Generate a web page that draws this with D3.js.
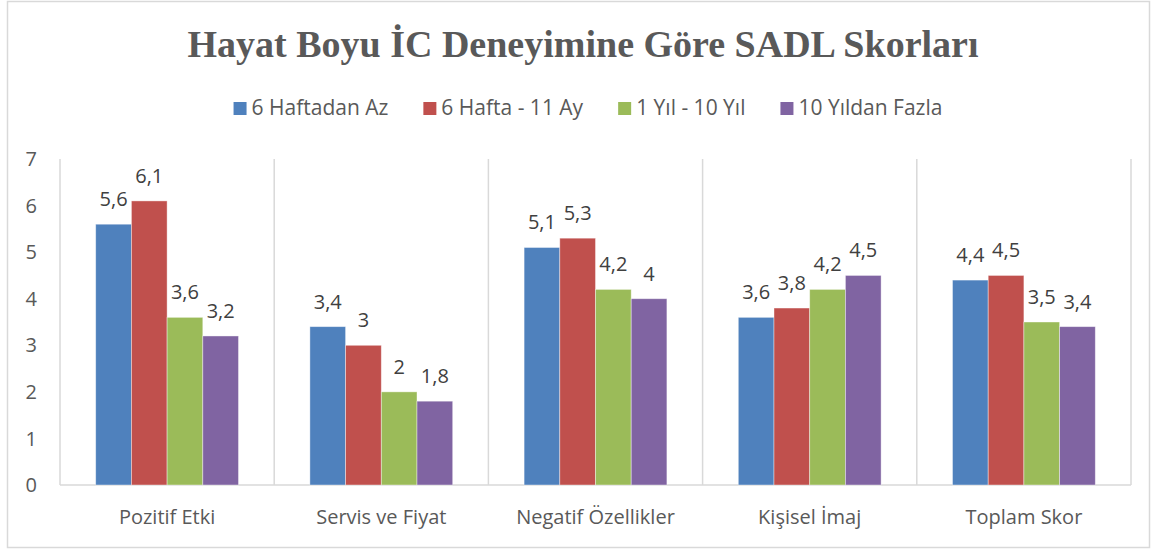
<!DOCTYPE html>
<html>
<head>
<meta charset="utf-8">
<script src="https://cdn.jsdelivr.net/npm/d3@7"></script>
<style>
  body { margin: 0; background: #fff; }
  text { font-family: "Open Sans", sans-serif; }
</style>
</head>
<body>
<script>
var categories = ['Pozitif Etki', 'Servis ve Fiyat', 'Negatif Özellikler', 'Kişisel İmaj', 'Toplam Skor'];
var seriesNames = ['6 Haftadan Az', '6 Hafta - 11 Ay', '1 Yıl - 10 Yıl', '10 Yıldan Fazla'];
var haftadanAz = [5.6, 3.4, 5.1, 3.6, 4.4];
var hafta11Ay = [6.1, 3.0, 5.3, 3.8, 4.5];
var yil1_10 = [3.6, 2.0, 4.2, 4.2, 3.5];
var yil10Fazla = [3.2, 1.8, 4.0, 4.5, 3.4];
var yTicks = [0, 1, 2, 3, 4, 5, 6, 7];

var colors = ['#4F81BD', '#C0504D', '#9BBB59', '#8064A2'];

var width = 1156;
var height = 550;

var margin = {
    top: 159,
    left: 60,
    right: 25,
    bottom: 65
};

var innerWidth = width - margin.left - margin.right;
var innerHeight = height - margin.top - margin.bottom;

var seriesValues = [haftadanAz, hafta11Ay, yil1_10, yil10Fazla];

var svg = d3.select('body').append('svg')
    .attr('width', width)
    .attr('height', height);

// chart border
svg.append('rect')
    .attr('x', 7.5).attr('y', 1.5)
    .attr('width', 1142).attr('height', 546)
    .attr('fill', 'none')
    .attr('stroke', '#d9d9d9')
    .attr('stroke-width', 1.5);

// title
svg.append('text')
    .attr('x', 583)
    .attr('y', 57)
    .attr('text-anchor', 'middle')
    .style('font-family', '"Liberation Serif", serif')
    .style('font-weight', 'bold')
    .style('font-size', '38px')
    .style('fill', '#595959')
    .text('Hayat Boyu İC Deneyimine Göre SADL Skorları');

// legend
var legend = svg.append('g');
var items = legend.selectAll('g')
    .data(seriesNames)
    .join('g');
items.append('rect')
    .attr('width', 13).attr('height', 13)
    .attr('y', -13)
    .attr('fill', function (d, i) { return colors[i]; });
items.append('text')
    .attr('x', 18)
    .attr('y', 0)
    .style('font-size', '21px')
    .style('fill', '#595959')
    .text(function (d) { return d; });
var gap = 35;
var pos = 0;
var offsets = [];
items.each(function () {
    offsets.push(pos);
    var w = 18 + d3.select(this).select('text').node().getComputedTextLength();
    pos += w + gap;
});
var total = pos - gap;
var lx = 588 - total / 2;
items.attr('transform', function (d, i) {
    return 'translate(' + (lx + offsets[i]) + ',0)';
});
legend.attr('transform', 'translate(0,115)');

var g = svg.append('g')
    .attr('transform', 'translate(' + margin.left + ',' + margin.top + ')');

var x0 = d3.scaleBand()
    .domain(categories)
    .range([0, innerWidth])
    .paddingInner(0)
    .paddingOuter(0);

var bw = x0.bandwidth();
var x1 = d3.scaleBand()
    .domain(d3.range(seriesNames.length))
    .range([bw / 6, bw * 5 / 6]);

var y = d3.scaleLinear()
    .domain([0, 7])
    .range([innerHeight, 0]);

// vertical separators between categories
g.selectAll('line.sep')
    .data(d3.range(categories.length + 1))
    .join('line')
    .attr('class', 'sep')
    .attr('x1', function (d) { return d * bw; })
    .attr('x2', function (d) { return d * bw; })
    .attr('y1', 0)
    .attr('y2', innerHeight)
    .attr('stroke', '#d9d9d9')
    .attr('stroke-width', 1.5);

// baseline
g.append('line')
    .attr('x1', 0).attr('x2', innerWidth)
    .attr('y1', innerHeight).attr('y2', innerHeight)
    .attr('stroke', '#d9d9d9')
    .attr('stroke-width', 1.5);

var rows = [];
categories.forEach(function (c, ci) {
    seriesValues.forEach(function (vals, si) {
        rows.push({ cat: c, s: si, v: vals[ci] });
    });
});

g.selectAll('rect.bar')
    .data(rows)
    .join('rect')
    .attr('class', 'bar')
    .attr('x', function (d) { return x0(d.cat) + x1(d.s); })
    .attr('y', function (d) { return y(d.v); })
    .attr('width', x1.bandwidth())
    .attr('height', function (d) { return innerHeight - y(d.v); })
    .attr('fill', function (d) { return colors[d.s]; })
    .attr('stroke', '#ffffff')
    .attr('stroke-opacity', 0.5)
    .attr('stroke-width', 0.8);

g.selectAll('text.lbl')
    .data(rows)
    .join('text')
    .attr('class', 'lbl')
    .attr('x', function (d) { return x0(d.cat) + x1(d.s) + x1.bandwidth() / 2; })
    .attr('y', function (d) { return y(d.v) - 18; })
    .attr('text-anchor', 'middle')
    .style('font-size', '20px')
    .style('fill', '#404040')
    .text(function (d) { return String(d.v).replace('.', ','); });

// y axis labels
g.selectAll('text.ytick')
    .data(yTicks)
    .join('text')
    .attr('class', 'ytick')
    .attr('x', -23)
    .attr('y', function (d) { return y(d); })
    .attr('dy', '0.36em')
    .attr('text-anchor', 'end')
    .style('font-size', '20px')
    .style('fill', '#595959')
    .text(function (d) { return d; });

// category labels
g.selectAll('text.cat')
    .data(categories)
    .join('text')
    .attr('class', 'cat')
    .attr('x', function (d) { return x0(d) + bw / 2; })
    .attr('y', innerHeight + 39)
    .attr('text-anchor', 'middle')
    .style('font-size', '20px')
    .style('fill', '#595959')
    .text(function (d) { return d; });
</script>
</body>
</html>
